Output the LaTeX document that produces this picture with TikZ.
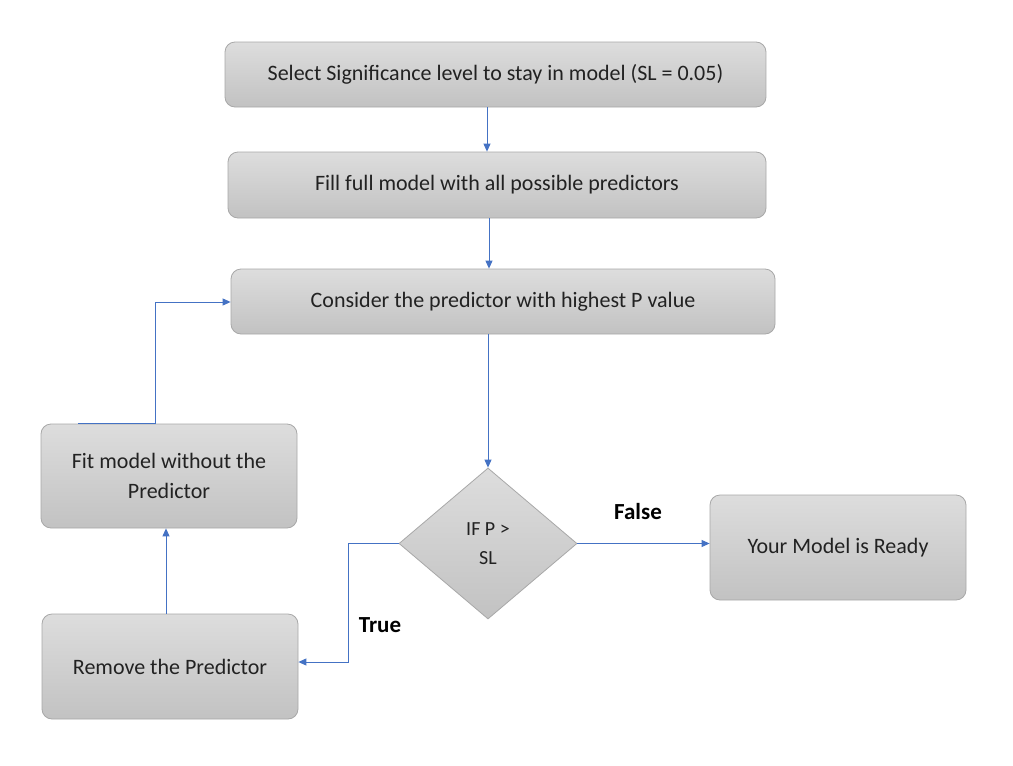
\documentclass[tikz,border=0pt]{standalone}
\usepackage{fontspec}
\setmainfont{Carlito}
\usetikzlibrary{shapes.geometric,arrows.meta}
\definecolor{boxtop}{HTML}{DDDDDD}
\definecolor{boxbot}{HTML}{C2C2C2}
\definecolor{boxline}{HTML}{A8A8A8}
\definecolor{arrowblue}{HTML}{4472C4}
\definecolor{txt}{HTML}{222222}
\tikzset{
  stepbox/.style={draw=boxline, line width=0.8pt, rounded corners=10pt, top color=boxtop, bottom color=boxbot,
    inner sep=0pt, align=center, text=txt, font=\fontsize{22}{30}\selectfont},
  decision/.style={diamond, draw=boxline, line width=0.8pt, top color=boxtop, bottom color=boxbot,
    inner sep=0pt, align=center, text=txt, font=\fontsize{20}{29}\selectfont},
  flow/.style={draw=arrowblue, line width=0.9pt, -{Triangle[width=7pt,length=8pt]}},
  edgelabel/.style={font=\bfseries\fontsize{23}{26}\selectfont, text=black}
}
\begin{document}
\begin{tikzpicture}[x=1pt,y=-1pt]
\useasboundingbox (0,0) rectangle (1013,766);
\fill[white] (0,0) rectangle (1013,766);
\node[stepbox, minimum width=541pt, minimum height=65pt] (sel) at (495.5,74.5) {Select Significance level to stay in model (SL = 0.05)};
\node[stepbox, minimum width=538pt, minimum height=66pt] (fill) at (497,185) {Fill full model with all possible predictors};
\node[stepbox, minimum width=544pt, minimum height=65pt] (cons) at (503,301.5) {Consider the predictor with highest P value};
\node[stepbox, minimum width=256pt, minimum height=104pt] (fit) at (169,476) {Fit model without the\\Predictor};
\node[stepbox, minimum width=256pt, minimum height=105pt] (rem) at (170,666.5) {Remove the Predictor};
\node[stepbox, minimum width=256pt, minimum height=105pt] (ready) at (838,547.5) {Your Model is Ready};
\node[decision, minimum width=178pt, minimum height=151pt] (dec) at (488,543.5) {IF P >\\SL};

\draw[flow] (sel.south -| 487,0) -- (fill.north -| 487,0);
\draw[flow] (fill.south -| 489,0) -- (cons.north -| 489,0);
\draw[flow] (cons.south -| 488,0) -- (dec.north);
\draw[flow] (dec.east) -- (ready.west |- dec.east);
\node[edgelabel] (falselbl) at (638,512) {False};
\draw[flow] (dec.west) -| (348,662) -- (rem.east |- 0,662);
\node[edgelabel] (truelbl) at (380,625) {True};
\draw[flow] (rem.north -| 166,0) -- (fit.south -| 166,0);
\coordinate (loopstart) at (78,423.5);
\draw[flow] (loopstart) -- (155,423.5) -- (155,302) -- (cons.west |- 0,302);
\end{tikzpicture}
\end{document}
